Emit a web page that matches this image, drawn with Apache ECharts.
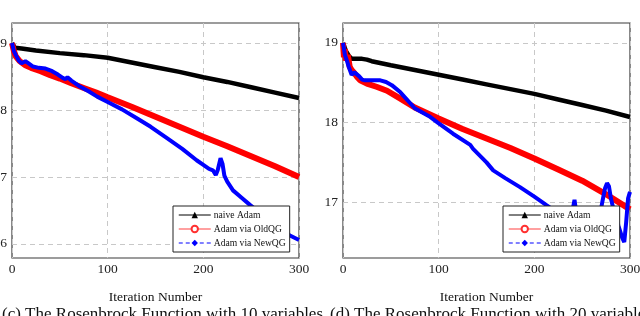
<!DOCTYPE html>
<html>
<head>
<meta charset="utf-8">
<script src="https://cdn.jsdelivr.net/npm/echarts@6/dist/echarts.min.js"></script>
<style>html,body{margin:0;padding:0;background:#fff}#c{width:640px;height:316px}</style>
</head>
<body>
<div id="c"></div>
<script>
// ---- data ----
var seriesNames = ['naive Adam', 'Adam via OldQG', 'Adam via NewQG'];
var xTicks = [0, 100, 200, 300];
var leftYTicks = [6, 7, 8, 9];
var rightYTicks = [17, 18, 19];
var captions = ['(c) The Rosenbrock Function with 10 variables', '(d) The Rosenbrock Function with 20 variables'];
var xTitle = 'Iteration Number';

// left panel (10 variables)
var L_black_x = [0, 3, 10, 25, 50, 75, 100, 125, 150, 175, 200, 225, 250, 275, 300];
var L_black_y = [9.0, 8.93, 8.92, 8.89, 8.85, 8.82, 8.78, 8.71, 8.64, 8.57, 8.49, 8.42, 8.34, 8.26, 8.18];
var L_red_x = [0, 2, 4, 8, 14, 20, 30, 40, 50, 62, 75, 88, 100, 125, 150, 175, 200, 225, 250, 275, 300];
var L_red_y = [9.0, 8.88, 8.80, 8.73, 8.67, 8.63, 8.58, 8.52, 8.47, 8.40, 8.33, 8.26, 8.19, 8.05, 7.9, 7.75, 7.6, 7.46, 7.31, 7.16, 7.0];
var L_blue_x = [0, 2, 4, 7, 10, 14, 17, 22, 28, 35, 42, 48, 53, 56, 58, 62, 70, 80, 89, 100, 115, 130, 145, 162, 178, 193, 200, 206, 210, 213, 215, 218, 220, 222, 225, 231, 240, 249, 260, 270, 283, 290, 300];
var L_blue_y = [9.0, 8.88, 8.82, 8.74, 8.70, 8.73, 8.70, 8.65, 8.63, 8.62, 8.58, 8.53, 8.48, 8.46, 8.49, 8.44, 8.36, 8.28, 8.2, 8.12, 8.01, 7.88, 7.75, 7.58, 7.42, 7.25, 7.18, 7.12, 7.1, 7.03, 7.1, 7.28, 7.2, 7.02, 6.93, 6.8, 6.69, 6.58, 6.45, 6.33, 6.2, 6.13, 6.06];

// right panel (20 variables)
var R_black_x = [0, 3, 6, 9, 15, 20, 25, 30, 50, 75, 100, 125, 150, 175, 200, 225, 250, 275, 300];
var R_black_y = [19.0, 18.9, 18.84, 18.8, 18.8, 18.8, 18.79, 18.77, 18.72, 18.66, 18.6, 18.54, 18.48, 18.42, 18.36, 18.29, 18.22, 18.15, 18.07];
var R_red_x = [0, 1, 2, 3, 5, 7, 9, 12, 15, 18, 25, 35, 46, 60, 75, 100, 125, 150, 175, 200, 225, 250, 275, 300];
var R_red_y = [19.0, 18.82, 18.92, 18.78, 18.85, 18.7, 18.66, 18.62, 18.57, 18.53, 18.49, 18.45, 18.4, 18.3, 18.19, 18.05, 17.92, 17.8, 17.68, 17.55, 17.41, 17.27, 17.1, 16.91];
var R_blue_x = [0, 2, 4, 6, 9, 12, 14, 17, 20, 23, 30, 39, 45, 51, 60, 75, 90, 99, 115, 133, 136, 150, 157, 170, 185, 200, 213, 225, 235, 240, 242, 244, 250, 260, 268, 271, 274, 276, 278, 280, 283, 288, 292, 294, 296, 298, 300];
var R_blue_y = [19.0, 18.85, 18.78, 18.7, 18.6, 18.63, 18.64, 18.58, 18.54, 18.53, 18.53, 18.53, 18.51, 18.47, 18.38, 18.18, 18.08, 18.0, 17.86, 17.72, 17.67, 17.5, 17.4, 17.3, 17.19, 17.07, 16.96, 16.86, 16.8, 16.9, 17.03, 16.85, 16.75, 16.7, 16.8, 17.0, 17.18, 17.24, 17.2, 17.05, 16.9, 16.7, 16.55, 16.5, 16.75, 17.05, 17.13];

function pairs(xs, ys) { return xs.map(function (x, i) { return [x, ys[i]]; }); }

var FONT = 'Liberation Serif';
var colors = ['#000000', '#ff0000', '#0000ff'];
var symbols = ['triangle', 'emptyCircle', 'diamond'];
var widths = [4.5, 6, 4];

function xAxisDef(gi) {
  return {
    type: 'value', gridIndex: gi, min: 0, max: 300, interval: 100,
    axisLine: { show: false }, axisTick: { show: false },
    axisLabel: { color: '#222', fontFamily: FONT, fontSize: 13.5, margin: 4 },
    splitLine: { show: true, lineStyle: { color: '#c8c8c8', type: [5, 4], width: 1 } },
    name: xTitle, nameLocation: 'middle', nameGap: 32,
    nameTextStyle: { color: '#111', fontFamily: FONT, fontSize: 13.5 }
  };
}
function yAxisDef(gi, mn, mx, ticks) {
  return {
    type: 'value', gridIndex: gi, min: mn, max: mx,
    axisLine: { show: false },
    axisTick: { show: false, customValues: ticks },
    axisLabel: { color: '#222', fontFamily: FONT, fontSize: 13.5, margin: 5, customValues: ticks },
    splitLine: { show: true, lineStyle: { color: '#c8c8c8', type: [5, 4], width: 1 } }
  };
}
function mkSeries(gi, k, xs, ys) {
  return {
    name: seriesNames[k], type: 'line', xAxisIndex: gi, yAxisIndex: gi,
    data: pairs(xs, ys), symbol: symbols[k], showSymbol: false,
    lineStyle: { color: colors[k], width: widths[k] }, itemStyle: { color: colors[k] },
    animation: false, z: 2 + k
  };
}
function legendDef(left) {
  return {
    left: left, top: 206, orient: 'vertical', z: 20,
    backgroundColor: '#fff', borderColor: '#222', borderWidth: 1,
    padding: [4, 4, 4, 5], itemWidth: 32, itemHeight: 8, itemGap: 4,
    textStyle: { fontFamily: FONT, fontSize: 9.6, color: '#111', padding: [0, 0, 0, -2] },
    lineStyle: { width: 1 },
    selectedMode: false,
    data: [
      { name: seriesNames[0], itemStyle: { color: '#000' }, lineStyle: { color: '#000', width: 1 } },
      { name: seriesNames[1], itemStyle: { color: '#ff3030', borderColor: '#ff3030', borderWidth: 1.2 }, lineStyle: { color: '#ff8080', width: 1.5 } },
      { name: seriesNames[2], itemStyle: { color: '#0000ff' }, lineStyle: { color: '#0000ff', width: 1, type: [4, 3] } }
    ]
  };
}

var chart = echarts.init(document.getElementById('c'), null, { renderer: 'canvas' });
chart.setOption({
  backgroundColor: '#fff',
  animation: false,
  grid: [
    { left: 12, right: 341, top: 23, bottom: 58, containLabel: false, outerBoundsMode: 'none', show: true, borderColor: '#3a3a3a', borderWidth: 1.2, backgroundColor: 'transparent' },
    { left: 343, right: 10, top: 23, bottom: 58, containLabel: false, outerBoundsMode: 'none', show: true, borderColor: '#3a3a3a', borderWidth: 1.2, backgroundColor: 'transparent' }
  ],
  xAxis: [xAxisDef(0), xAxisDef(1)],
  yAxis: [yAxisDef(0, 5.79, 9.3, leftYTicks), yAxisDef(1, 16.3, 19.25, rightYTicks)],
  legend: [legendDef(173), legendDef(503)],
  series: [
    mkSeries(0, 0, L_black_x, L_black_y),
    mkSeries(0, 1, L_red_x, L_red_y),
    mkSeries(0, 2, L_blue_x, L_blue_y),
    mkSeries(1, 0, R_black_x, R_black_y),
    mkSeries(1, 1, R_red_x, R_red_y),
    mkSeries(1, 2, R_blue_x, R_blue_y)
  ],
  graphic: [
    { type: 'text', left: 2, top: 306, style: { text: captions[0], fontFamily: FONT, fontSize: 17, fill: '#111' }, z: 10 },
    { type: 'text', left: 330, top: 306, style: { text: captions[1], fontFamily: FONT, fontSize: 17, fill: '#111' }, z: 10 }
  ]
});
</script>
</body>
</html>
